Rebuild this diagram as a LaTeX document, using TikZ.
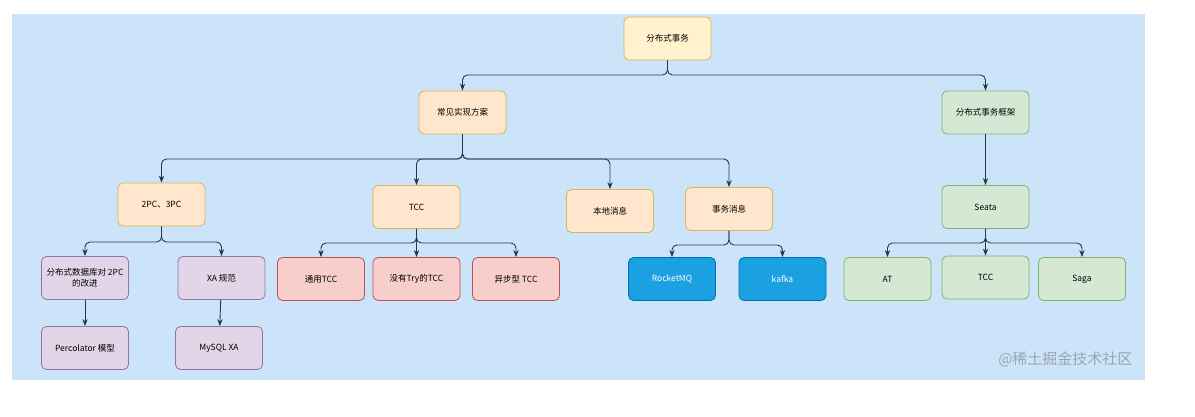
\documentclass[tikz,border=0pt]{standalone}
\usepackage{fontspec}
\setmainfont{Noto Sans CJK SC}
\usetikzlibrary{arrows.meta}

\definecolor{bgblue}{HTML}{CCE4FA}
\definecolor{edgec}{HTML}{24384C}
\definecolor{yfill}{HTML}{FFF2CC}
\definecolor{ofill}{HTML}{FFE6CC}
\definecolor{odraw}{HTML}{D6B656}
\definecolor{pfill}{HTML}{E1D5E7}
\definecolor{pdraw}{HTML}{9673A6}
\definecolor{rfill}{HTML}{F8CECC}
\definecolor{rdraw}{HTML}{B85450}
\definecolor{bfill}{HTML}{1BA1E2}
\definecolor{bdraw}{HTML}{006EAF}
\definecolor{gfill}{HTML}{D5E8D4}
\definecolor{gdraw}{HTML}{82B366}
\definecolor{wmgray}{HTML}{9AA6B2}

\begin{document}
\begin{tikzpicture}[
  x=1pt, y=-1pt,
  font=\fontsize{8.5}{10.5}\selectfont, >=Stealth,
  box/.style={draw, rounded corners=5pt, align=center, line width=0.8pt,
              minimum width=87pt, minimum height=43pt, inner sep=1pt},
  yb/.style={box, fill=yfill, draw=odraw},
  ob/.style={box, fill=ofill, draw=odraw},
  pb/.style={box, fill=pfill, draw=pdraw},
  rb/.style={box, fill=rfill, draw=rdraw},
  bb/.style={box, fill=bfill, draw=bdraw, text=white},
  gb/.style={box, fill=gfill, draw=gdraw},
  arr/.style={->, line width=0.9pt, draw=edgec, rounded corners=5pt},
]
\useasboundingbox (0,0) rectangle (1195,416);
\fill[bgblue] (12,14) rectangle (1145,380);

% top levels
\node[yb] (root) at (667.5,38.5) {分布式事务};
\node[ob] (impl) at (462.5,112.5) {常见实现方案};
\node[gb] (fw)   at (985.5,112.5) {分布式事务框架};

% implementations
\node[ob] (pc)    at (161.5,204.5) {2PC、3PC};
\node[ob] (tcc)   at (416.5,207)   {TCC};
\node[ob] (local) at (610,211)     {本地消息};
\node[ob] (txmsg) at (729,209)     {事务消息};
\node[gb] (seata) at (985.5,207)   {Seata};

% leaves
\node[pb] (dbimp) at (85,278)    {分布式数据库对 2PC\\的改进};
\node[pb] (xa)    at (221.5,278) {XA 规范};
\node[pb] (perc)  at (85,348)    {Percolator 模型};
\node[pb] (mysql) at (219,348)   {MySQL XA};

\node[rb] (gtcc)  at (321,279)   {通用TCC};
\node[rb] (ntcc)  at (416.5,279) {没有Try的TCC};
\node[rb] (atcc)  at (516,279)   {异步型 TCC};

\node[bb] (rmq)   at (672,279)   {RocketMQ};
\node[bb] (kafka) at (782.5,279) {kafka};

\node[gb] (at)    at (887.5,279) {AT};
\node[gb] (stcc)  at (985.5,277.5) {TCC};
\node[gb] (saga)  at (1082,279)  {Saga};

\node[font=\fontsize{15}{17}\selectfont, text=wmgray, anchor=east] (wm) at (1136,359) {@稀土掘金技术社区};

% bus lines
\coordinate (b0) at (0,75);
\coordinate (b1) at (0,159);
\coordinate (b2) at (0,242);
\coordinate (b3) at (0,243);
\coordinate (b4) at (0,245);

\draw[arr] (root.south) -- (root.south |- b0) -| (impl.north);
\draw[arr] (root.south) -- (root.south |- b0) -| (fw.north);

\draw[arr] (impl.south) -- (impl.south |- b1) -| (pc.north);
\draw[arr] (impl.south) -- (impl.south |- b1) -| (tcc.north);
\draw[arr] (impl.south) -- (impl.south |- b1) -| (local.north);
\draw[arr] (impl.south) -- (impl.south |- b1) -| (txmsg.north);
\draw[arr] (fw) -- (seata);

\draw[arr] (pc.south) -- (pc.south |- b2) -| (dbimp.north);
\draw[arr] (pc.south) -- (pc.south |- b2) -| (xa.north);
\draw[arr] (dbimp) -- (perc);
\draw[arr] (xa) -- (mysql);

\draw[arr] (tcc.south) -- (tcc.south |- b3) -| (gtcc.north);
\draw[arr] (tcc) -- (ntcc);
\draw[arr] (tcc.south) -- (tcc.south |- b3) -| (atcc.north);

\draw[arr] (txmsg.south) -- (txmsg.south |- b4) -| (rmq.north);
\draw[arr] (txmsg.south) -- (txmsg.south |- b4) -| (kafka.north);

\draw[arr] (seata.south) -- (seata.south |- b3) -| (at.north);
\draw[arr] (seata) -- (stcc);
\draw[arr] (seata.south) -- (seata.south |- b3) -| (saga.north);
\end{tikzpicture}
\end{document}
